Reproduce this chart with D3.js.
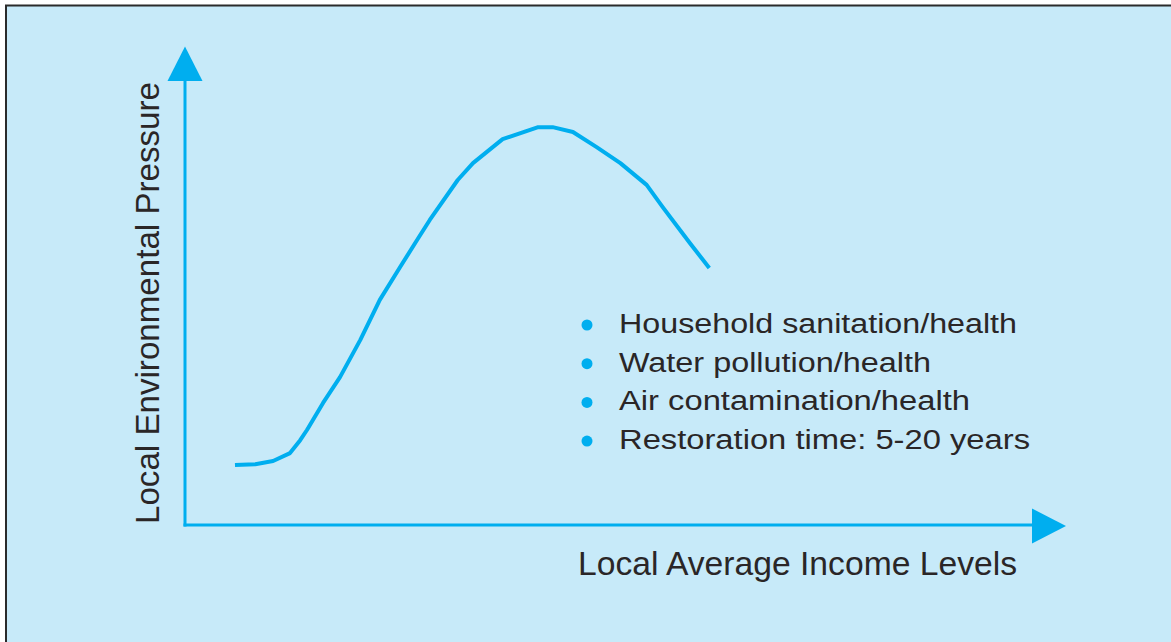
<!DOCTYPE html>
<html>
<head>
<meta charset="utf-8">
<script src="https://cdn.jsdelivr.net/npm/d3@7"></script>
<style>
  html, body { margin: 0; padding: 0; background: #ffffff; }
  svg { display: block; }
</style>
</head>
<body>
<svg id="chart" width="1171" height="642"></svg>
<script>
// ---- data ----
const income   = [5.9, 8.3, 10.4, 12.4, 13.6, 14.4, 16.3, 18.3, 20.7, 23.0, 25.4, 27.4, 28.9, 32.2, 34.0, 37.5, 41.7, 43.4, 45.8, 48.6, 51.4, 54.5, 56.4, 59.6, 61.9];
const pressure = [13.5, 13.7, 14.4, 16.2, 19.1, 21.4, 27.5, 33.3, 41.7, 50.7, 58.1, 64.2, 68.7, 77.7, 81.5, 86.9, 89.6, 89.6, 88.5, 85.1, 81.5, 76.6, 71.6, 63.5, 57.9];
const legendItems = ["Household sanitation/health", "Water pollution/health", "Air contamination/health", "Restoration time: 5-20 years"];
const xAxisTitle = "Local Average Income Levels";
const yAxisTitle = "Local Environmental Pressure";

// ---- style ----
const blue = "#00aeef";
const textColor = "#2a2627";
const font = "'Liberation Sans', Arial, Helvetica, sans-serif";

const svg = d3.select("#chart");

// panel background with frame on top/left
svg.append("rect").attr("x", 6).attr("y", 5).attr("width", 1171).attr("height", 642)
  .attr("fill", "#c7eaf9");
svg.append("path").attr("d", "M6,642 V5.5 H1171")
  .attr("fill", "none").attr("stroke", "#2b2b2b").attr("stroke-width", 2);

const x = d3.scaleLinear().domain([0, 100]).range([185, 1032]);
const y = d3.scaleLinear().domain([0, 100]).range([525, 81]);

// axes lines
svg.append("line").attr("x1", x(0)).attr("x2", x(0)).attr("y1", y(0) + 1.5).attr("y2", y(100))
  .attr("stroke", blue).attr("stroke-width", 3);
svg.append("line").attr("x1", x(0) - 1.5).attr("x2", x(100)).attr("y1", y(0)).attr("y2", y(0))
  .attr("stroke", blue).attr("stroke-width", 3);

// arrowheads
const yTop = y(100), xEnd = x(100);
svg.append("path")
  .attr("d", `M${x(0)},${yTop - 34.5} L${x(0) + 17.5},${yTop} L${x(0) - 17.5},${yTop} Z`)
  .attr("fill", blue);
svg.append("path")
  .attr("d", `M${xEnd + 34},${y(0) + 1} L${xEnd},${y(0) - 16.5} L${xEnd},${y(0) + 18.5} Z`)
  .attr("fill", blue);

// curve
const pts = income.map((v, i) => [v, pressure[i]]);
const line = d3.line().x(d => x(d[0])).y(d => y(d[1])).curve(d3.curveLinear);
svg.append("path").datum(pts).attr("d", line)
  .attr("fill", "none").attr("stroke", blue).attr("stroke-width", 4)
  .attr("stroke-linejoin", "round");

// axis titles
svg.append("text").attr("x", 578).attr("y", 575)
  .attr("font-family", font).attr("font-size", 33).attr("fill", textColor)
  .attr("textLength", 439).attr("lengthAdjust", "spacingAndGlyphs")
  .text(xAxisTitle);

svg.append("text")
  .attr("transform", "translate(159,524) rotate(-90)")
  .attr("font-family", font).attr("font-size", 33).attr("fill", textColor)
  .attr("textLength", 442).attr("lengthAdjust", "spacingAndGlyphs")
  .text(yAxisTitle);

// legend
const widths = [398, 312, 351, 411];
const lg = svg.append("g");
legendItems.forEach((t, i) => {
  const by = 333 + i * 38.7;
  lg.append("circle").attr("cx", 587).attr("cy", by - 8).attr("r", 5.5).attr("fill", blue);
  lg.append("text").attr("x", 619).attr("y", by)
    .attr("font-family", font).attr("font-size", 27).attr("fill", textColor)
    .attr("textLength", widths[i]).attr("lengthAdjust", "spacingAndGlyphs")
    .text(t);
});
</script>
</body>
</html>
